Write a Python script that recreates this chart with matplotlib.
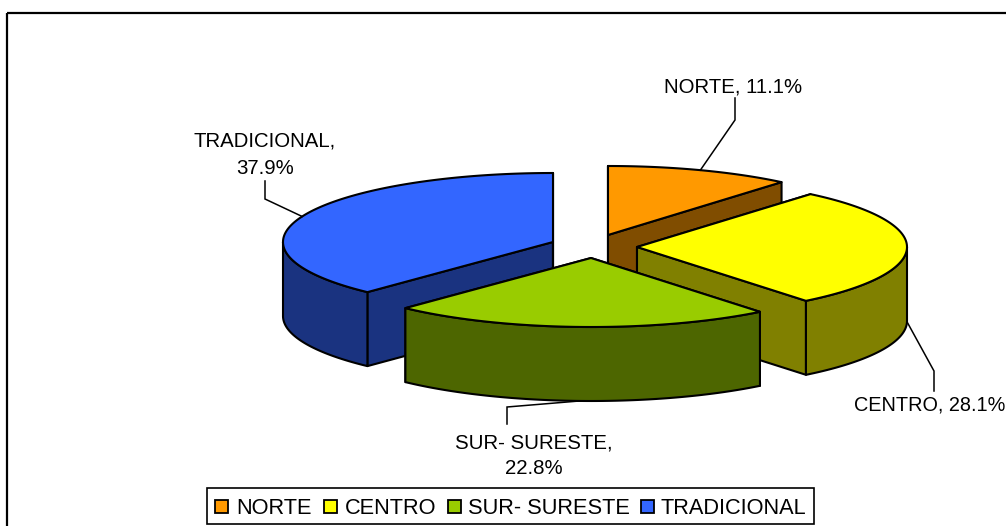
import numpy as np
import matplotlib
matplotlib.use('Agg')
import matplotlib.pyplot as plt
from matplotlib.patches import Polygon, Rectangle

plt.rcParams['font.family'] = ['Liberation Sans', 'DejaVu Sans']

# data
categories = ['NORTE', 'CENTRO', 'SUR- SURESTE', 'TRADICIONAL']
values = [11.1, 28.1, 22.8, 37.9]
colors = ['#FF9900', '#FFFF00', '#99CC00', '#3366FF']
dark_colors = ['#804D00', '#808000', '#4D6600', '#1A3380']

# pie geometry, in pixels of the picture
apex = {'NORTE': (608, 235), 'CENTRO': (637, 247), 'SUR- SURESTE': (591, 258), 'TRADICIONAL': (553, 242)}
rx, ry, depth = 270, 69, 74
draw_order = ['NORTE', 'TRADICIONAL', 'CENTRO', 'SUR- SURESTE']


def rim(cat, a):
    # a is clockwise from 12 o'clock, degrees
    a = np.radians(a)
    return apex[cat][0] + rx * np.sin(a), apex[cat][1] - ry * np.cos(a)


def draw_slice(ax, cat, a0, a1, color, dark):
    ang = np.linspace(a0, a1, 200)
    xs, ys = rim(cat, ang)
    cx, cy = apex[cat]
    lw = 1.5

    # the two cut faces
    for a in (a0, a1):
        x, y = rim(cat, a)
        ax.add_patch(Polygon([(cx, cy), (x, y), (x, y + depth), (cx, cy + depth)],
                             facecolor=dark, edgecolor='black', lw=lw, joinstyle='round'))

    # outer wall, only the front part of the rim shows
    lo, hi = max(a0, 90), min(a1, 270)
    if hi > lo:
        front = np.linspace(lo, hi, 150)
        fx, fy = rim(cat, front)
        pts = list(zip(fx, fy)) + list(zip(fx[::-1], fy[::-1] + depth))
        ax.add_patch(Polygon(pts, facecolor=dark, edgecolor='black', lw=lw, joinstyle='round'))

    top = [(cx, cy)] + list(zip(xs, ys))
    ax.add_patch(Polygon(top, facecolor=color, edgecolor='black', lw=lw, joinstyle='round'))


fig = plt.figure(figsize=(10.06, 5.26), dpi=100)
ax = fig.add_axes([0, 0, 1, 1])
ax.set_xlim(0, 1006)
ax.set_ylim(526, 0)
ax.axis('off')

# chart frame runs off the right and bottom of the picture
ax.plot([7, 7], [530, 12.5], color='black', lw=1.6, solid_capstyle='butt')
ax.plot([7, 1010], [12.5, 12.5], color='black', lw=1.6, solid_capstyle='butt')

# angles from the values
total = sum(values)
starts = {}
ends = {}
a = 0.0
for cat, v in zip(categories, values):
    starts[cat] = a
    a += v / total * 360
    ends[cat] = a

for cat in draw_order:
    i = categories.index(cat)
    draw_slice(ax, cat, starts[cat], ends[cat], colors[i], dark_colors[i])

# leader lines start at the middle of each slice's rim
mid = {c: (starts[c] + ends[c]) / 2 for c in categories}


def leader(cat, elbow, end, down=0):
    x, y = rim(cat, mid[cat])
    ax.plot([x, elbow[0], end[0]], [y + down, elbow[1], end[1]], color='black', lw=1.1,
            solid_joinstyle='miter')


leader('NORTE', (735, 120), (735, 98))
leader('CENTRO', (934, 371), (934, 391), down=depth)
leader('SUR- SURESTE', (507, 407), (507, 424), down=depth)
leader('TRADICIONAL', (265, 199), (265, 181))

fs = 14.7
ax.text(664, 87, 'NORTE, 11.1%', fontsize=fs, ha='left', va='center')
ax.text(854, 405, 'CENTRO, 28.1%', fontsize=14.3, ha='left', va='center')
ax.text(534, 443, 'SUR- SURESTE,', fontsize=fs, ha='center', va='center')
ax.text(534, 469, '22.8%', fontsize=fs, ha='center', va='center')
ax.text(265, 141, 'TRADICIONAL,', fontsize=fs, ha='center', va='center')
ax.text(265, 168, '37.9%', fontsize=fs, ha='center', va='center')

# legend
ax.add_patch(Rectangle((207, 488), 607, 36, facecolor='white', edgecolor='black', lw=1.2))
swatch_x = [215, 324, 448, 641]
text_x = [236, 345, 468, 661]
for i, cat in enumerate(categories):
    ax.add_patch(Rectangle((swatch_x[i], 500), 13, 13, facecolor=colors[i], edgecolor='black', lw=1.3))
    ax.text(text_x[i], 508, cat, fontsize=15.7, ha='left', va='center')

fig.savefig('out.png', dpi=100)
